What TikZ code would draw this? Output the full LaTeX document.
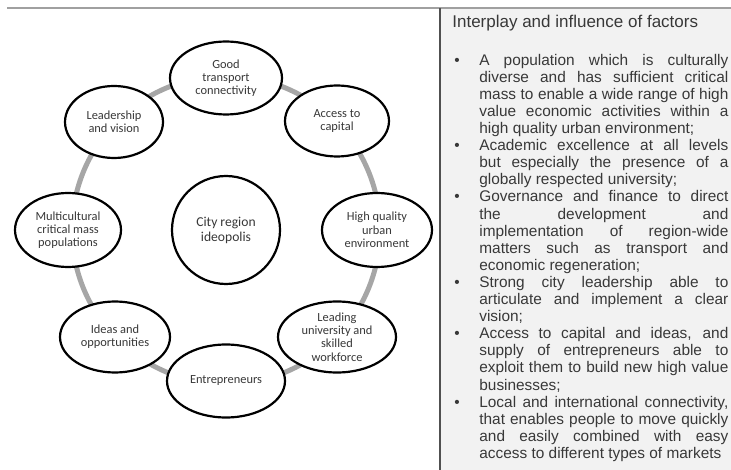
\documentclass[tikz,border=0pt]{standalone}
\usepackage{fontspec}
\setmainfont{Liberation Sans}
\newfontfamily\ellipsefont{Carlito}
\usetikzlibrary{shapes.geometric}

\definecolor{ringgray}{RGB}{166,166,166}
\definecolor{panelgray}{RGB}{242,242,242}
\definecolor{textgray}{RGB}{56,56,56}

\tikzset{every picture/.style={line width=0.75pt}}

\begin{document}
\begin{tikzpicture}[x=1pt,y=1pt,yscale=-1,xscale=1,
  factor/.style={ellipse,draw=black,line width=2.2pt,fill=white,inner sep=0pt,
    align=center,text=textgray,font=\ellipsefont\fontsize{12.4}{13.3}\selectfont},
  hub/.style={circle,draw=black,line width=2.2pt,fill=white,inner sep=0pt,minimum size=108,
    align=center,text=textgray,font=\ellipsefont\fontsize{13.6}{15}\selectfont}]
	\useasboundingbox (0,0) rectangle (731,470);

	%Shape: Rectangle [id:panel]
	\fill [panelgray] (440,8) rectangle (731,470);
	%Straight Lines [id:topline]
	\draw [color={rgb, 255:red, 160; green, 160; blue, 160 }, line width=2pt] (7,8) -- (731,8);
	%Straight Lines [id:divider]
	\draw [color={rgb, 255:red, 80; green, 80; blue, 80 }, line width=1.5pt] (440,8) -- (440,470);

	%Shape: Circle [id:ring]
	\draw [ringgray, line width=5pt] (226,230) circle (154);

	%Shape: Ellipse [id:hub]
	\node [hub] (city) at (226,230) {City region\\ideopolis};
	%Shape: Ellipse [id:transport]
	\node [factor, minimum width=112, minimum height=73] (transport) at (226,78) {Good\\transport\\connectivity};
	%Shape: Ellipse [id:capital]
	\node [factor, minimum width=104, minimum height=71] (capital) at (337,121) {Access to\\capital};
	%Shape: Ellipse [id:urban]
	\node [factor, minimum width=110, minimum height=74] (urban) at (377,230) {High quality\\urban\\environment};
	%Shape: Ellipse [id:university]
	\node [factor, minimum width=118, minimum height=71] (university) at (337,337) {Leading\\university and\\skilled\\workforce};
	%Shape: Ellipse [id:entrepreneurs]
	\node [factor, minimum width=118, minimum height=73] (entrepreneurs) at (226,381) {Entrepreneurs};
	%Shape: Ellipse [id:ideas]
	\node [factor, minimum width=110, minimum height=71] (ideas) at (115,337) {Ideas and\\opportunities};
	%Shape: Ellipse [id:multicultural]
	\node [factor, minimum width=106, minimum height=74] (multicultural) at (68,230) {Multicultural\\critical mass\\populations};
	%Shape: Ellipse [id:leadership]
	\node [factor, minimum width=98, minimum height=72] (leadership) at (114,122) {Leadership\\and vision};

	% Text Node
	\node [anchor=base west, inner sep=0pt, text=textgray, font=\fontsize{17}{20}\selectfont] (title) at (452,28) {Interplay and influence of factors};
	% Text Node
	\node [anchor=north west, inner sep=0pt, text width=275, text=textgray, align=justify,
	  font=\fontsize{15.4}{17.1}\selectfont] (factors) at (453,53.6) {%
	  \tolerance=10000 \hbadness=10000 \parskip=0pt
	  \hangindent=26pt\hangafter=1\makebox[26pt][l]{\hspace{1pt}•}A population which is culturally\linebreak
	  diverse and has sufficient critical\linebreak
	  mass to enable a wide range of high\linebreak
	  value economic activities within a\linebreak
	  high quality urban environment;\par
	  \hangindent=26pt\hangafter=1\makebox[26pt][l]{\hspace{1pt}•}Academic excellence at all levels\linebreak
	  but especially the presence of a\linebreak
	  globally respected university;\par
	  \hangindent=26pt\hangafter=1\makebox[26pt][l]{\hspace{1pt}•}Governance and finance to direct\linebreak
	  the development and\linebreak
	  implementation of region-wide\linebreak
	  matters such as transport and\linebreak
	  economic regeneration;\par
	  \hangindent=26pt\hangafter=1\makebox[26pt][l]{\hspace{1pt}•}Strong city leadership able to\linebreak
	  articulate and implement a clear\linebreak
	  vision;\par
	  \hangindent=26pt\hangafter=1\makebox[26pt][l]{\hspace{1pt}•}Access to capital and ideas, and\linebreak
	  supply of entrepreneurs able to\linebreak
	  exploit them to build new high value\linebreak
	  businesses;\par
	  \hangindent=26pt\hangafter=1\makebox[26pt][l]{\hspace{1pt}•}Local and international connectivity,\linebreak
	  that enables people to move quickly\linebreak
	  and easily combined with easy\linebreak
	  access to different types of markets\par};

\end{tikzpicture}
\end{document}
